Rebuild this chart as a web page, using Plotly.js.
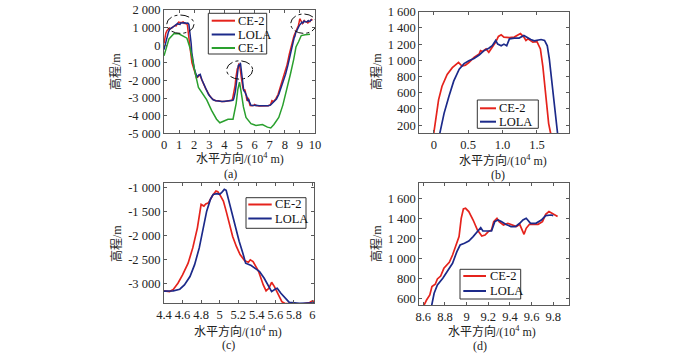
<!DOCTYPE html>
<html><head><meta charset="utf-8">
<script src="https://cdn.plot.ly/plotly-3.0.1.min.js"></script>
<style>body{margin:0;padding:0;background:#fff}#c{width:700px;height:353px}</style>
</head><body><div id="c"></div>
<script>
// ---- data (x in 10^4 m, elevation in m) ----
const ce2X = [0,0.02,0.07,0.12,0.195,0.27,0.34,0.36,0.41,0.46,0.51,0.585,0.66,0.68,0.71,0.76,0.80,0.85,0.9,0.94,0.98,1.02,1.1,1.17,1.22,1.26,1.31,1.34,1.37,1.44,1.5,1.55,1.585,1.63,1.67,1.70,
  1.76,1.85,1.95,2.05,2.15,2.25,2.35,2.45,2.6,2.75,2.9,3.05,3.2,3.4,3.6,3.8,4.0,4.2,
  4.4,4.46,4.5,4.55,4.6,4.66,4.71,4.76,4.8,4.83,4.85,4.88,4.92,4.96,4.98,5.0,5.04,5.07,5.11,5.14,5.18,5.22,5.27,5.31,5.33,5.36,5.4,5.42,5.47,5.5,5.53,5.56,5.59,5.63,5.67,5.7,5.8,5.9,5.97,6.0,
  6.1,6.3,6.5,6.7,6.9,7.05,7.15,7.25,7.4,7.55,7.7,7.85,8.0,8.15,8.3,8.45,8.55,
  8.6,8.63,8.66,8.68,8.71,8.73,8.76,8.79,8.84,8.87,8.9,8.93,8.95,8.97,8.99,9.02,9.06,9.1,9.14,9.17,9.2,9.23,9.25,9.28,9.3,9.34,9.38,9.42,9.46,9.49,9.52,9.53,9.55,9.58,9.61,9.66,9.7,9.73,9.76,9.8,9.84];
const ce2Y = [100,220,513,680,827,910,952,975,930,940,973,1036,1078,1120,1110,1140,1100,1160,1225,1295,1315,1287,1280,1287,1315,1330,1287,1245,1265,1225,1230,1140,930,513,220,95,
  -400,-1000,-1350,-1550,-1850,-1800,-1650,-1900,-2150,-2450,-2700,-2900,-3050,-3150,-3150,-3200,-3200,-3180,
  -3160,-3175,-3130,-3000,-2825,-2580,-2260,-1840,-1350,-1385,-1340,-1315,-1175,-1070,-1085,-1140,-1280,-1490,-1770,-2020,-2230,-2400,-2530,-2560,-2510,-2545,-2685,-2755,-3035,-3160,-3105,-2980,-3070,-3245,-3385,-3420,-3435,-3430,-3405,-3370,
  -3420,-3450,-3450,-3450,-3430,-3380,-3150,-3200,-3050,-2800,-2400,-2000,-1600,-1100,-500,100,450,
  517,583,633,717,740,793,823,900,960,1033,1117,1217,1400,1493,1500,1467,1383,1283,1223,1233,1267,1283,1367,1400,1367,1333,1350,1333,1317,1340,1250,1240,1300,1340,1340,1340,1367,1440,1467,1440,1417];

const lolaX = [0,0.05,0.09,0.15,0.22,0.29,0.37,0.44,0.51,0.585,0.66,0.73,0.8,0.85,0.9,0.93,0.98,1.02,1.06,1.1,1.17,1.24,1.31,1.37,1.41,1.46,1.51,1.56,1.61,1.65,1.68,1.73,1.78,1.80,
  1.84,1.92,2.0,2.1,2.2,2.3,2.4,2.5,2.65,2.8,2.95,3.1,3.25,3.45,3.65,3.85,4.05,4.25,
  4.4,4.5,4.57,4.62,4.68,4.73,4.78,4.82,4.86,4.9,4.93,4.97,5.0,5.02,5.05,5.07,5.1,5.14,5.17,5.21,5.25,5.28,5.34,5.39,5.43,5.48,5.53,5.56,5.6,5.62,5.66,5.72,5.75,5.86,6.0,
  6.1,6.3,6.5,6.7,6.9,7.05,7.2,7.3,7.45,7.6,7.75,7.9,8.05,8.2,8.35,8.5,8.62,
  8.675,8.7,8.73,8.78,8.82,8.87,8.91,8.94,8.98,9.02,9.06,9.1,9.13,9.15,9.19,9.23,9.26,9.29,9.32,9.36,9.41,9.45,9.49,9.52,9.55,9.57,9.59,9.64,9.69,9.73,9.78,9.8];
const lolaY = [-250,-50,100,346,555,743,890,960,994,1023,1065,1120,1150,1180,1245,1200,1180,1200,1180,1265,1275,1275,1307,1275,1257,1240,1245,1257,1245,1180,1015,640,305,95,
  -400,-900,-1300,-1600,-1800,-1700,-1650,-1950,-2250,-2550,-2800,-2950,-3100,-3150,-3180,-3200,-3180,-3170,
  -3160,-3160,-3125,-3035,-2860,-2610,-2260,-1910,-1490,-1245,-1140,-1125,-1140,-1105,-1035,-1055,-1280,-1560,-1840,-2120,-2370,-2580,-2630,-2700,-2755,-2895,-3070,-3175,-3120,-3105,-3210,-3350,-3400,-3420,-3405,
  -3410,-3430,-3440,-3440,-3430,-3400,-3250,-3150,-3050,-2800,-2450,-2050,-1650,-1150,-550,50,420,
  517,650,733,800,867,950,1067,1133,1150,1173,1217,1267,1307,1273,1273,1273,1367,1383,1367,1340,1317,1317,1350,1383,1400,1373,1350,1350,1383,1427,1433,1427];

const ce1X = [0,0.33,0.65,0.98,1.3,1.52,1.74,1.96,2.07,2.28,2.5,2.83,3.15,3.48,3.7,4.0,4.24,4.57,4.78,4.89,5.0,5.1,5.26,5.43,5.76,6.09,6.52,6.85,7.07,7.28,7.6,7.87,8.15,8.37,8.59,8.74,8.91,9.09,9.35,9.67];
const ce1Y = [-600,360,650,650,500,400,-200,-1200,-1600,-2400,-2700,-3100,-3700,-4200,-4400,-4300,-4200,-4200,-3300,-2500,-2100,-2600,-3500,-4100,-4450,-4550,-4500,-4650,-4700,-4500,-4100,-3400,-2500,-1650,-800,-100,200,550,600,630];

// dashed ellipses in (a): [x0,x1,y0,y1]
const ellipses = [[0.18,1.99,674,1715],[4.15,5.87,-1926,-885],[8.39,10.1,674,1772]];

// series names / legend entries
const namesA = ['CE-2','LOLA','CE-1'];
const namesB = ['CE-2','LOLA'];

// ticks
const aXt = [0,1,2,3,4,5,6,7,8,9,10];
const aYv = [-5000,-4000,-3000,-2000,-1000,0,1000,2000];
const aYt = ['-5 000','-4 000','-3 000','-2 000','-1 000','0','1 000','2 000'];
const bXv = [0,0.5,1.0,1.5], bXt = ['0','0.5','1.0','1.5'];
const bYv = [200,400,600,800,1000,1200,1400,1600];
const bYt = ['200','400','600','800','1 000','1 200','1 400','1 600'];
const cXv = [4.4,4.6,4.8,5,5.2,5.4,5.6,5.8,6];
const cXt = ['4.4','4.6','4.8','5','5.2','5.4','5.6','5.8','6'];
const cYv = [-3000,-2500,-2000,-1500,-1000];
const cYt = ['-3 000','-2 500','-2 000','-1 500','-1 000'];
const dXv = [8.6,8.8,9,9.2,9.4,9.6,9.8];
const dXt = ['8.6','8.8','9','9.2','9.4','9.6','9.8'];
const dYv = [600,800,1000,1200,1400,1600];
const dYt = ['600','800','1 000','1 200','1 400','1 600'];

const RED='#e5231c', BLUE='#1c2a8a', GREEN='#2aa02e';
const COLORS = {'CE-2':RED,'LOLA':BLUE,'CE-1':GREEN};
const FONT = 'Liberation Serif, Times New Roman, Noto Sans CJK SC, serif';
const W=700,H=353;
const px=v=>v/W, py=v=>1-v/H;

function tr(x,y,name,ax,w){return {x:x,y:y,name:name,type:'scatter',mode:'lines',showlegend:false,
  line:{color:COLORS[name],width:w||1.7},xaxis:'x'+ax,yaxis:'y'+ax};}

const data = [
  tr(ce2X,ce2Y,'CE-2','',1.5),
  tr(lolaX,lolaY,'LOLA','',1.5),
  tr(ce1X,ce1Y,'CE-1','',1.5),
  tr(ce2X,ce2Y,'CE-2','2'),
  tr(lolaX,lolaY,'LOLA','2'),
  tr(ce2X,ce2Y,'CE-2','3'),
  tr(lolaX,lolaY,'LOLA','3'),
  tr(ce2X,ce2Y,'CE-2','4'),
  tr(lolaX,lolaY,'LOLA','4')
];

function ax(anchor,dom,rng,tv,tt){return {anchor:anchor,domain:dom,range:rng,tickvals:tv,ticktext:tt,showgrid:false,zeroline:false,
  showline:true,mirror:'ticks',linecolor:'#5a5a5a',linewidth:1,ticks:'inside',ticklen:3,tickcolor:'#5a5a5a',
  tickfont:{family:FONT,size:12.5,color:'#222'}};}

const annFont={family:FONT,size:12,color:'#222'};
const anns=[], shapes=[];
function ytitle(x,y){anns.push({text:'高程/m',xref:'paper',yref:'paper',x:px(x),y:py(y),showarrow:false,textangle:-90,font:annFont,xanchor:'center',yanchor:'middle'});}
function xtitle(x,y){anns.push({text:'水平方向/(10<sup>4</sup> m)',xref:'paper',yref:'paper',x:px(x),y:py(y),showarrow:false,font:annFont,xanchor:'center',yanchor:'middle'});}
function lab(t,x,y){anns.push({text:t,xref:'paper',yref:'paper',x:px(x),y:py(y),showarrow:false,font:annFont,xanchor:'center',yanchor:'middle'});}
ytitle(115,72); ytitle(376,72); ytitle(116,243); ytitle(376,244);
xtitle(240,158); xtitle(503,161); xtitle(238,331.5); xtitle(492,331.5);
lab('(a)',230,173.5); lab('(b)',498,174.5); lab('(c)',228,344.5); lab('(d)',480,345.5);

// legend boxes: [left, right, top, bottom, sampleX0, sampleX1, textX, entry y's, names]
function legendBox(l,r,t,b,s0,s1,tx,ys,names){
  shapes.push({type:'rect',xref:'paper',yref:'paper',x0:px(l),x1:px(r),y0:py(b),y1:py(t),
    line:{color:'#333',width:1},fillcolor:'#fff',layer:'above'});
  names.forEach((n,i)=>{
    shapes.push({type:'line',xref:'paper',yref:'paper',x0:px(s0),x1:px(s1),y0:py(ys[i]),y1:py(ys[i]),
      line:{color:COLORS[n],width:2},layer:'above'});
    anns.push({text:n,xref:'paper',yref:'paper',x:px(tx),y:py(ys[i]),showarrow:false,xanchor:'left',yanchor:'middle',
      font:{family:FONT,size:12.5,color:'#111'}});
  });
}
legendBox(208.3,266.7,13.3,54,211.7,235,236,[20.7,34.5,48],namesA);
legendBox(477.3,538.3,100,128.3,480,496,497,[108.3,121.7],namesB);
legendBox(246,306,197.7,228.3,248.3,271.7,273,[204.5,218.5],namesB);
legendBox(460,520.7,269.3,299,463.3,486,487.5,[276,291],namesB);

ellipses.forEach(e=>shapes.push({type:'circle',xref:'x',yref:'y',x0:e[0],x1:e[1],y0:e[2],y1:e[3],
  line:{color:'#111',width:1,dash:'dashdot'}}));

const layout = {
  width:W,height:H,margin:{l:0,r:0,t:0,b:0},paper_bgcolor:'#fff',plot_bgcolor:'#fff',
  font:{family:FONT},showlegend:false,
  xaxis:ax('y',[164/W,315/W],[0,10],aXt,aXt.map(String)),
  yaxis:ax('x',[py(133.3),py(10)],[-5000,2000],aYv,aYt),
  xaxis2:ax('y2',[419.3/W,569.3/W],[-0.21,1.97],bXv,bXt),
  yaxis2:ax('x2',[py(133.3),py(11.7)],[100,1600],bYv,bYt),
  xaxis3:ax('y3',[164/W,314.3/W],[4.4,6.02],cXv,cXt),
  yaxis3:ax('x3',[py(303.3),py(182.7)],[-3420,-895],cYv,cYt),
  xaxis4:ax('y4',[419.3/W,569.3/W],[8.563,9.948],dXv,dXt),
  yaxis4:ax('x4',[py(305),py(183.3)],[533,1750],dYv,dYt),
  annotations:anns,shapes:shapes
};
Plotly.newPlot('c',data,layout,{staticPlot:true,displayModeBar:false});
</script></body></html>
